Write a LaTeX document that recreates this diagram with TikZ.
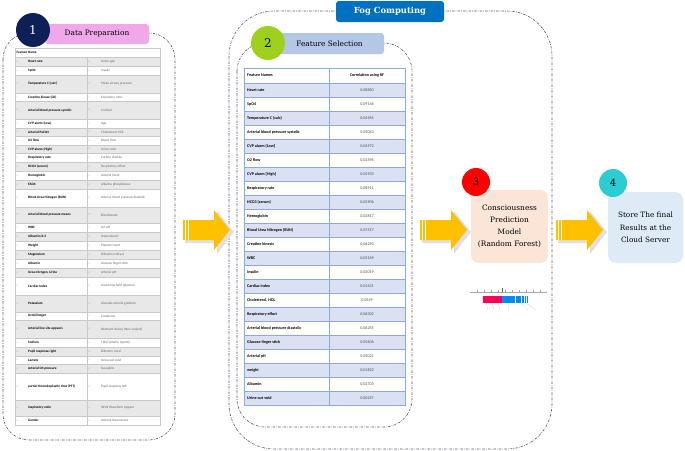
\documentclass[tikz,border=0pt]{standalone}
\usepackage{fontspec}
\setmainfont{DejaVu Serif}
\newfontfamily\tabfont{Carlito}

\definecolor{navyNum}{RGB}{14,31,88}
\definecolor{pinkLabel}{RGB}{241,168,233}
\definecolor{limeNum}{RGB}{160,208,30}
\definecolor{steelLabel}{RGB}{180,199,231}
\definecolor{fogBlue}{RGB}{0,112,192}
\definecolor{arrowYellow}{RGB}{255,192,0}
\definecolor{redNum}{RGB}{255,0,0}
\definecolor{peachBox}{RGB}{251,229,214}
\definecolor{cyanNum}{RGB}{44,204,212}
\definecolor{cloudBox}{RGB}{222,235,247}
\definecolor{rowBlue}{RGB}{217,225,242}
\definecolor{gridBlue}{RGB}{142,169,219}
\definecolor{rowGray}{RGB}{232,232,232}
\definecolor{gridGray}{RGB}{200,200,200}
\definecolor{lineGray}{RGB}{85,85,110}
\definecolor{shapRed}{RGB}{255,0,82}
\definecolor{shapBlue}{RGB}{0,139,251}

\begin{document}
\begin{tikzpicture}[x=1pt,y=-1pt,
  fog line/.style={dash pattern=on 2.5pt off 1.2pt on 0.6pt off 1.2pt,line width=0.6pt,lineGray},
  num node/.style={circle,minimum size=34pt,inner sep=0pt,font=\fontsize{12}{12}\selectfont},
  small num/.style={circle,minimum size=28pt,inner sep=0pt,font=\fontsize{10}{10}\selectfont},
  title box/.style={rounded corners=3pt,inner sep=0pt,font=\fontsize{7.4}{9}\selectfont},
  stage box/.style={rounded corners=8pt,inner sep=0pt,align=center,font=\fontsize{7.4}{12}\selectfont},
  t1 text/.style={inner sep=0pt,anchor=west,font=\tabfont\fontsize{3.4}{4}\selectfont},
  t2 text/.style={inner sep=0pt,font=\tabfont\fontsize{4.1}{5}\selectfont}]

  \useasboundingbox (0,0) rectangle (685,450);

  % dashed frames
  \draw[fog line,rounded corners=45pt] (229,11) rectangle (552,449);
  \draw[fog line,rounded corners=28pt] (237,43) rectangle (412,427);
  \draw[fog line,rounded corners=26pt] (3,33) rectangle (175,440);

  % table of all features
  \fill[white] (15,48) rectangle (160,425);
  \node[t1 text,font=\tabfont\bfseries\fontsize{3.4}{4}\selectfont] (t1head) at (16.5,52.5) {Feature Name};
  \foreach \ya/\yb/\fa/\fb [count=\i] in {
      57/66/Heart rate/Anion gap,
      66/75/SpO4/Insulin,
      75/93/Temperature C (calc)/Mean airway pressure,
      93/101.5/Creatine kinase (CK)/Expiratory ratio,
      101.5/119/Arterial blood pressure systolic/Cortisol,
      119/128/CVP alarm (Low)/Age,
      128/136.5/Arterial PaCO4/{Cholesterol, HDL},
      136.5/145/O2 flow/Blood flow,
      145/153.5/CVP alarm (High)/Urine color,
      153.5/162/Respiratory rate/Carbon dioxide,
      162/171/HCO3 (serum)/Respiratory effort,
      171/180/Hemoglobin/Arterial PaO2,
      180/189/FAO4/Alkaline phosphatase,
      189/207/Blood Urea Nitrogen (BUN)/Arterial blood pressure diastolic,
      207/223/Arterial blood pressure means/Bicarbonate,
      223/232/WBC/Art pH,
      232/241/{Albumin/d.3}/Haematocrit,
      241/250/Weight/Platelet count,
      250/259/Magnesium/Bilirubin Indirect,
      259/268/Albumin/Glucose finger stick,
      268/277/{Urea nitrogen, Urine}/Arterial pH,
      277/295/Cardiac Index/Green top hold (plasma),
      295/312/Potassium/Alveolar-arterial gradient,
      312/320/Urobilinogen/Creatinine,
      320/338/Arterial line site appears/Restraint device (Non-violent),
      338/347/Sodium/Tidal Volume (spont),
      347/356/Pupil response right/{Bilirubin, total},
      356/364/Lactate/Urine out void,
      364/373/Arterial O4 pressure/Basophils,
      373/400/partial thromboplastin time (PTT)/Pupil response left,
      400/416/Inspiratory ratio/INVN Waveform Appear,
      416/425/Gender/Arterial base excess} {
    \pgfmathtruncatemacro\odd{mod(\i,2)}
    \ifnum\odd=1 \def\rowfill{rowGray}\else\def\rowfill{white}\fi
    \fill[\rowfill] (15,\ya) rectangle (160,\yb);
    \draw[gridGray,line width=0.4pt] (15,\ya) -- (160,\ya);
    \node[t1 text] (t1da-\i) at (16.5,\ya/2+\yb/2) {-};
    \node[t1 text,font=\tabfont\bfseries\fontsize{3.4}{4}\selectfont] (t1f-\i) at (28,\ya/2+\yb/2) {\fa};
    \node[t1 text] (t1db-\i) at (88.5,\ya/2+\yb/2) {-};
    \node[t1 text,text=black!60] (t1v-\i) at (101,\ya/2+\yb/2) {\fb};
  }
  \draw[gridGray,line width=0.5pt] (15,48) rectangle (160,425) (87,57) -- (87,425);

  % table of selected features
  \fill[white] (244,68) rectangle (405,83);
  \node[t2 text,anchor=west,font=\tabfont\bfseries\fontsize{4.1}{5}\selectfont] (t2head) at (247,75.5) {Feature Names};
  \node[t2 text,font=\tabfont\bfseries\fontsize{4.1}{5}\selectfont] (t2corr) at (367,75.5) {Correlation using RF};
  \foreach \fn/\val [count=\i] in {
      Heart rate/0.08850,
      SpO4/0.09146,
      Temperature C (calc)/0.04965,
      Arterial blood pressure systolic/0.03043,
      CVP alarm [Low]/0.04972,
      O2 flow/0.02594,
      CVP alarm [High]/0.02933,
      Respiratory rate/0.08911,
      HCO3 (serum)/0.02906,
      Hemoglobin/0.02817,
      Blood Urea Nitrogen (BUN)/0.07517,
      Creatine kinesis/0.06293,
      WBC/0.02169,
      Insulin/0.02019,
      Cardiac index/0.01621,
      {Cholesterol, HDL}/0.0349,
      Respiratory effort/0.06302,
      Arterial blood pressure diastolic/0.06255,
      Glucose finger stick/0.05606,
      Arterial pH/0.03021,
      weight/0.01822,
      Albumin/0.02703,
      Urine out void/0.00257} {
    \pgfmathsetmacro\yt{83+14*(\i-1)}
    \pgfmathtruncatemacro\odd{mod(\i,2)}
    \ifnum\odd=1 \def\rowfill{rowBlue}\else\def\rowfill{white}\fi
    \fill[\rowfill] (244,\yt) rectangle (405,\yt+14);
    \draw[gridBlue,line width=0.7pt] (244,\yt) -- (405,\yt);
    \node[t2 text,anchor=west,font=\tabfont\bfseries\fontsize{4.1}{5}\selectfont] (t2n-\i) at (247,\yt+7) {\fn};
    \node[t2 text,text=black!70] (t2v-\i) at (367,\yt+7) {\val};
  }
  \draw[gridBlue,line width=0.8pt] (244,68) rectangle (405,405) (329,68) -- (329,405);

  % block arrows
  \foreach \ax in {183,420,556} {
    \fill[black!12] (\ax+2,223) -- (\ax+34,223) -- (\ax+34,211) -- (\ax+51,232) -- (\ax+34,254) -- (\ax+34,243) -- (\ax+2,243) -- cycle;
    \fill[arrowYellow] (\ax,220) -- (\ax+31,220) -- (\ax+31,210) -- (\ax+47,230) -- (\ax+31,250) -- (\ax+31,240) -- (\ax,240) -- cycle;
    \draw[white,line width=0.7pt] (\ax+2.5,220) -- (\ax+2.5,240) (\ax+5,220) -- (\ax+5,240);
  }

  % titles and step numbers
  \node[title box,fill=fogBlue,text=white,minimum width=108pt,minimum height=21pt,
        font=\bfseries\fontsize{8.4}{9}\selectfont] (fog) at (390,11.5) {Fog Computing};
  \node[title box,fill=pinkLabel,minimum width=104pt,minimum height=20pt] (prep) at (97,34) {Data Preparation};
  \node[num node,fill=navyNum,text=white] (1) at (33,30) {1};
  \node[title box,fill=steelLabel,minimum width=109pt,minimum height=21pt] (select) at (329.5,43.5) {Feature Selection};
  \node[num node,fill=limeNum] (2) at (268,43) {2};

  % model and cloud
  \node[stage box,fill=peachBox,minimum width=77pt,minimum height=73pt] (model) at (509.5,226.5)
    {Consciousness\\Prediction\\Model\\(Random Forest)};
  \node[small num,fill=redNum] (3) at (476,182) {3};
  \node[stage box,fill=cloudBox,minimum width=75pt,minimum height=71pt,font=\fontsize{7.3}{12.5}\selectfont] (cloud) at (645.5,227.5)
    {Store The final\\Results at the\\Cloud Server};
  \node[small num,fill=cyanNum] (4) at (613,183) {4};

  % force plot under the model
  \draw[black!35,line width=0.3pt] (470,292) -- (547,292);
  \foreach \tx in {477,484,...,540} \draw[black!35,line width=0.3pt] (\tx,289.5) -- (\tx,292);
  \draw[black!60,line width=0.6pt] (502,288) -- (502,292);
  \fill[shapRed] (483,296) rectangle (502,303);
  \fill[shapBlue] (502,296) rectangle (528,303);
  \draw[white,line width=0.3pt] (515,296) -- (515,303) (521,296) -- (521,303) (524,296) -- (524,303) (526,296) -- (526,303);
  \draw[shapRed!30,line width=0.3pt] (486,303) -- (488,310) (492,303) -- (494,310) (498,303) -- (500,310);
  \draw[shapBlue!30,line width=0.3pt] (508,303) -- (509,310) (521,303) -- (528,310) (526,303) -- (536,310);
\end{tikzpicture}
\end{document}
